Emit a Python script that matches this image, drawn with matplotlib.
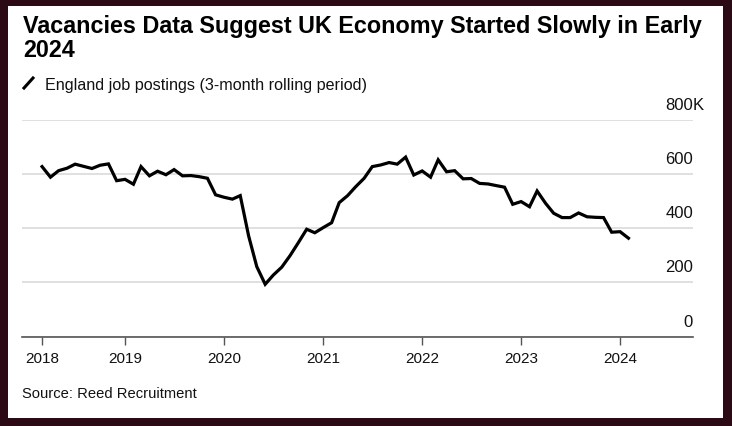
import matplotlib
matplotlib.use("Agg")
import matplotlib.pyplot as plt
import matplotlib.transforms as mtransforms
from matplotlib.patches import Rectangle
from matplotlib.lines import Line2D
import pandas as pd

# England job postings, 3-month rolling, thousands
months = pd.date_range("2018-03-01", periods=72, freq="MS")
postings = [627, 588, 612, 621, 636, 628, 620, 632, 637, 575,
            580, 562, 627, 593, 610, 597, 616, 593, 594, 590,
            584, 523, 514, 507, 520, 371, 258, 193, 227, 256,
            299, 346, 396, 383, 402, 420, 494, 520, 553, 584,
            627, 633, 642, 636, 662, 596, 611, 588, 652, 608,
            612, 582, 583, 565, 563, 557, 551, 488, 498, 479,
            537, 492, 455, 439, 439, 456, 442, 440, 439, 385,
            387, 363]

tick_dates = ["2018-03-01", "2019-01-01", "2020-01-01", "2021-01-01",
              "2022-01-01", "2023-01-01", "2024-01-01"]
tick_labels = ["2018", "2019", "2020", "2021", "2022", "2023", "2024"]
y_ticks = [0, 200, 400, 600, 800]

title_1 = "Vacancies Data Suggest UK Economy Started Slowly in Early"
title_2 = "2024"
legend_label = "England job postings (3-month rolling period)"
source = "Source: Reed Recruitment"

W, H = 732, 426
FONT = "Liberation Sans"
border = "#2b0a15"

fig = plt.figure(figsize=(W / 100, H / 100), dpi=100, facecolor=border)
# white card inside the dark frame
fig.patches.append(Rectangle((8 / W, 8 / H), (723 - 8) / W, (420 - 8) / H,
                             transform=fig.transFigure, facecolor="white",
                             edgecolor="none", zorder=-10))

# px -> figure fraction helpers
def fx(px):
    return px / W

def fy(py):
    return 1 - py / H

ax = fig.add_axes([fx(22), fy(336.6), fx(693) - fx(22), (336.6 - 119.7) / H])
ax.set_facecolor("none")

ax.plot(months, postings, color="black", lw=2.3, solid_joinstyle="miter",
        zorder=3)

ax.set_xlim(pd.Timestamp("2017-12-17"), pd.Timestamp("2024-09-26"))
ax.set_ylim(0, 800)

ax.set_yticks(y_ticks)
ax.yaxis.grid(True, color="#dddddd", lw=1.3)
ax.tick_params(axis="y", length=0, labelleft=False)

ax.set_xticks(pd.to_datetime(tick_dates))
ax.set_xticklabels(tick_labels, fontsize=11, family=FONT, color="#111111")
ax.tick_params(axis="x", direction="out", length=6, width=1,
               color="#555555", pad=5)

for s in ["top", "right", "left"]:
    ax.spines[s].set_visible(False)
ax.spines["bottom"].set_color("#555555")
ax.spines["bottom"].set_linewidth(1.2)
ax.spines["bottom"].set_zorder(4)

# y labels sitting above the gridlines, right aligned
lab_tr = mtransforms.offset_copy(ax.get_yaxis_transform(), fig=fig,
                                 x=0, y=10, units="dots")
for v in y_ticks:
    ax.text(1.0, v, str(v), transform=lab_tr, ha="right", va="baseline",
            fontsize=12, family=FONT, color="#111111")
ax.text(1.0, 800, "K", transform=lab_tr, ha="left", va="baseline",
        fontsize=12, family=FONT, color="#111111")

# title, legend, source
fig.text(fx(23), fy(33), title_1, fontsize=16.8, fontweight="bold",
         family=FONT, va="baseline", color="black")
fig.text(fx(23), fy(57), title_2, fontsize=16.8, fontweight="bold",
         family=FONT, va="baseline", color="black")

fig.lines.append(Line2D([fx(24), fx(33)], [fy(88), fy(78)], color="black",
                        lw=2.2, transform=fig.transFigure))
fig.text(fx(45), fy(90), legend_label, fontsize=11.6, family=FONT,
         va="baseline", color="#111111")

fig.text(fx(22), fy(398), source, fontsize=10.6, family=FONT,
         va="baseline", color="#111111")

fig.savefig("out.png", dpi=100, facecolor=border)
